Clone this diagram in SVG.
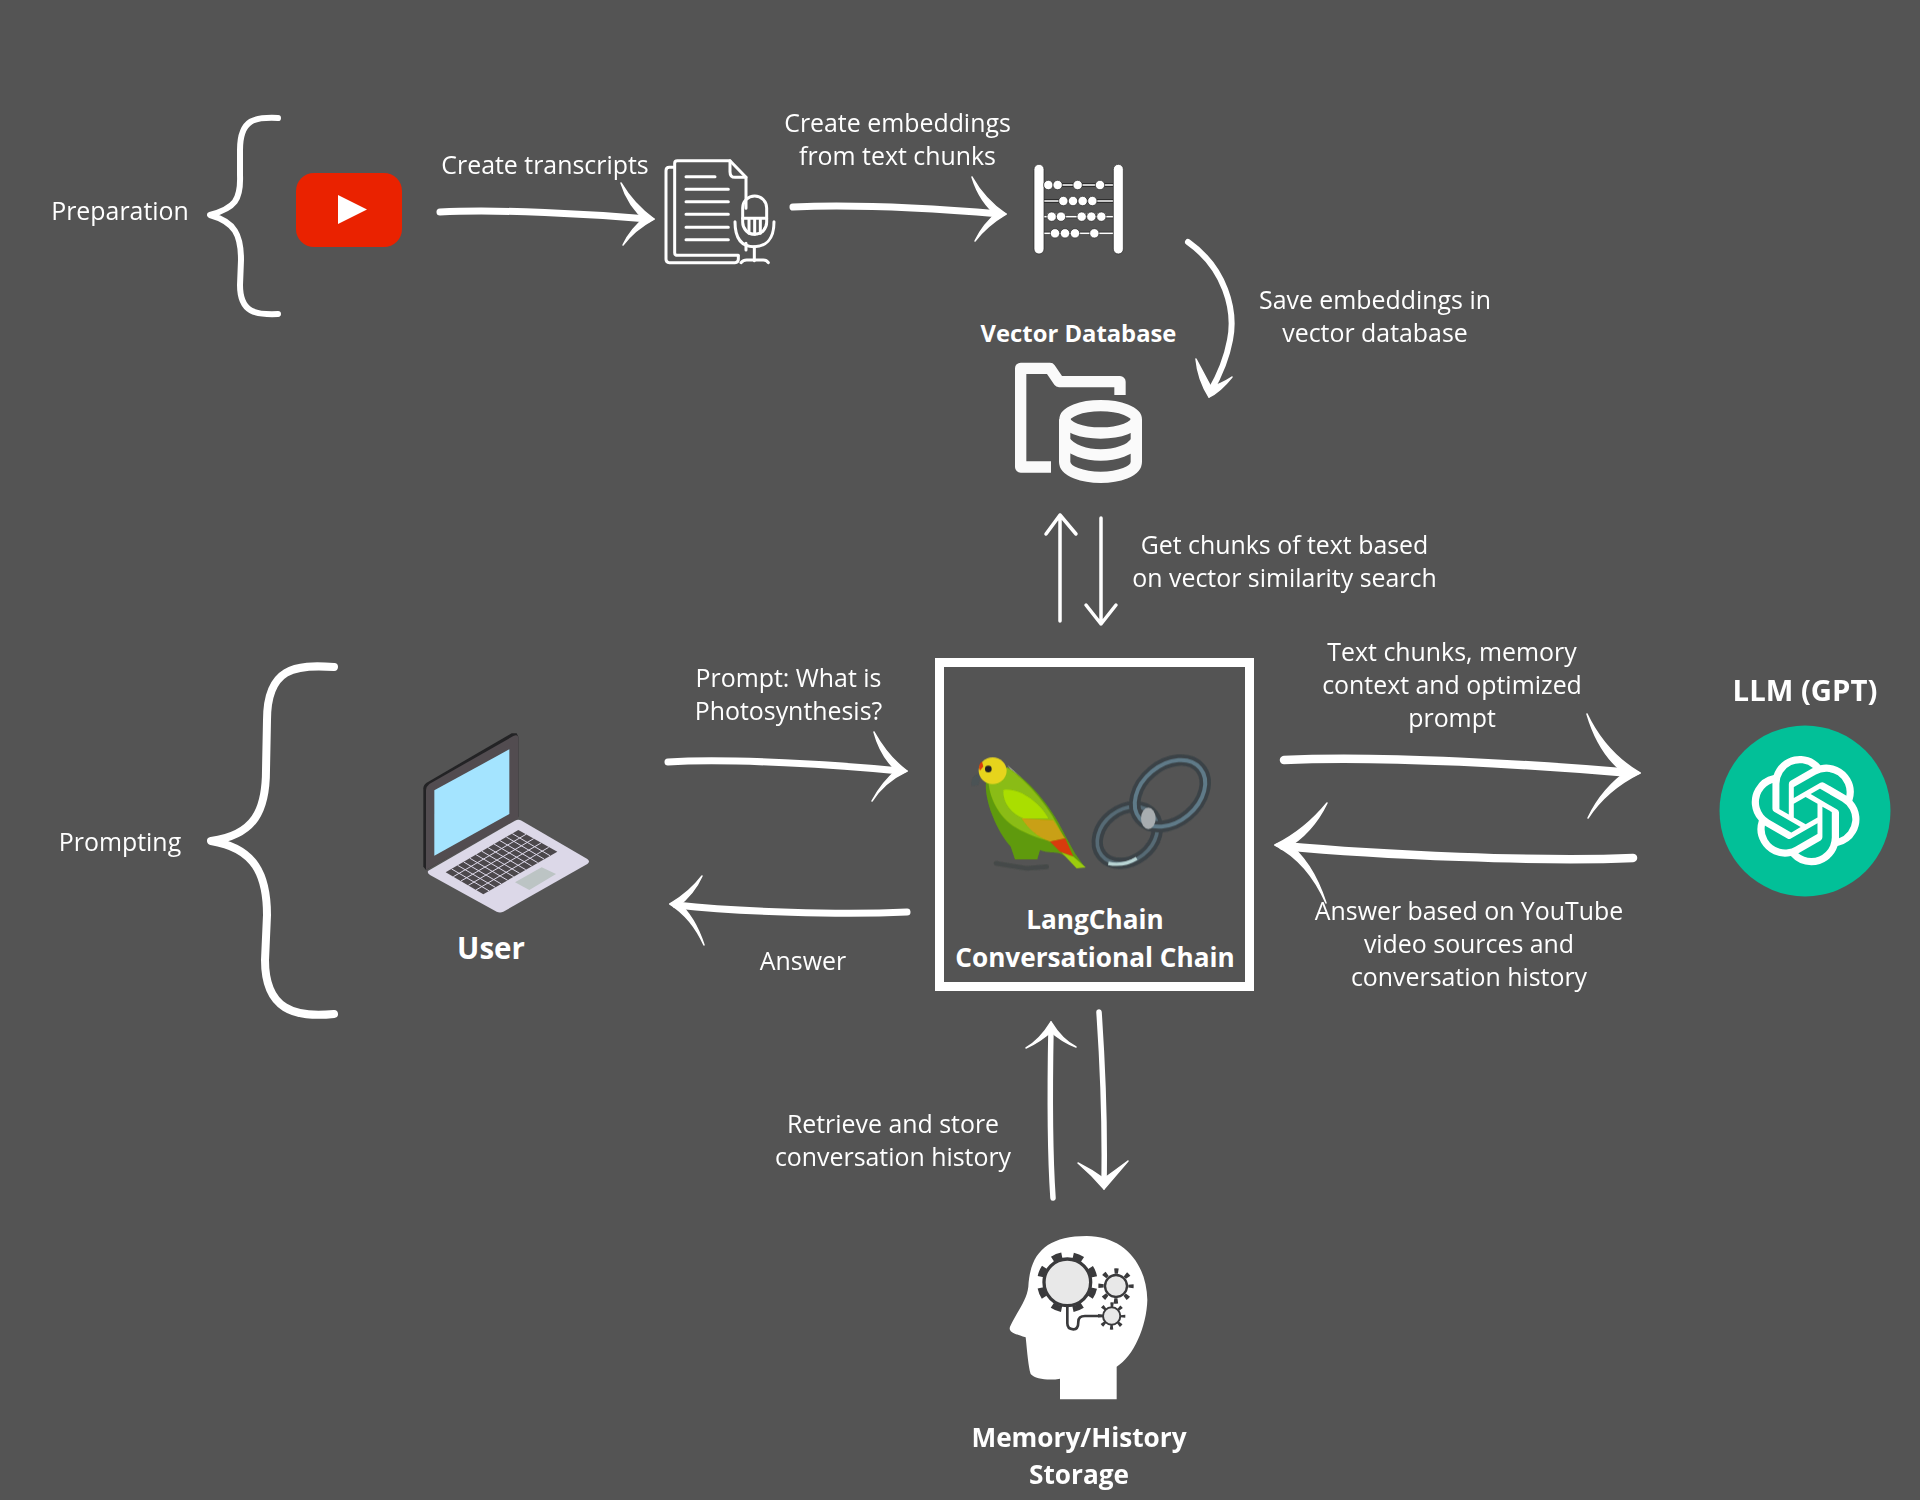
<svg xmlns="http://www.w3.org/2000/svg" width="1920" height="1500" viewBox="0 0 1920 1500">
<style>
text{font-family:"Open Sans","Noto Sans",sans-serif;fill:#fff;text-anchor:middle;font-size:24.900px}
.b{font-weight:700;font-size:26.200px}
.a{fill:none;stroke:#fff;stroke-linecap:round;stroke-linejoin:round;stroke-width:7}
.h{fill:#fff;stroke:#fff;stroke-width:1.500;stroke-linejoin:round}
.t{stroke-width:3.500}
.k{stroke-width:8.500}
.s{stroke-width:5.500}
.ic{fill:none;stroke:#fff;stroke-width:9;stroke-linecap:round;stroke-linejoin:round}
</style>
<defs>
<filter id="soft" x="-5%" y="-5%" width="110%" height="110%"><feGaussianBlur stdDeviation="2"/></filter>
</defs>
<rect width="1920" height="1500" fill="#545454"/>

<g id="brace-preparation"><path class="a" style="stroke-width:6" d="M278,118C256,117 240,118 240,150L240,175C241,200 235,208 210,215C235,222 241,235 241,260L240,285C240,313 256,315 278,314"/></g>
<g id="brace-prompting"><path class="a" style="stroke-width:8" d="M334,667C295,664 267,668 267,720L266,770C266,810 255,835 211,841C255,848 267,875 267,915L265,960C265,1010 295,1018 334,1014"/></g>

<g id="connectors">
<path class="a" d="M440,212C500,209 590,214 648,219"/>
<path class="h" d="M621,183Q634,205 654,219L647,222Q628,206 621,183Z"/><path class="h" d="M623,245Q634,230 654,219L647,216Q631,228 623,245Z"/>
<path class="a" d="M793,207C860,204 940,209 1000,214"/>
<path class="h" d="M972,177Q985,200 1006,214L999,217Q980,203 972,177Z"/><path class="h" d="M975,241Q986,226 1006,214L999,211Q983,224 975,241Z"/>
<path class="a" style="stroke-width:6" d="M1188,242C1225,268 1236,310 1230,340C1226,362 1218,378 1210,392"/>
<path class="h" d="M1196,359Q1198,380 1209,397L1212,389Q1204,374 1196,359Z"/><path class="h" d="M1232,377Q1220,392 1209,397L1207,388Q1220,385 1232,377Z"/>
<path class="a t" d="M1060,621L1060,515M1046,534L1060,515L1076,534"/>
<path class="a t" d="M1101,518L1101,624M1086,605L1101,624L1116,605"/>
<path class="a" d="M668,762C730,758 840,765 900,771"/>
<path class="h" d="M874,732Q888,757 907,771L900,774Q881,758 874,732Z"/><path class="h" d="M872,801Q884,782 907,771L899,768Q882,782 872,801Z"/>
<path class="a" d="M907,912C840,915 740,912 676,905"/>
<path class="h" d="M702,876Q690,892 670,904L677,907Q694,894 702,876Z"/><path class="h" d="M704,945Q692,918 670,904L677,901Q695,917 704,945Z"/>
<path class="a k" d="M1284,760C1380,755 1540,765 1632,773"/>
<path class="h" d="M1587,714Q1605,752 1640,773L1630,777Q1600,758 1587,714Z"/><path class="h" d="M1588,818Q1606,790 1640,773L1630,769Q1602,788 1588,818Z"/>
<path class="a k" d="M1633,858C1540,862 1380,855 1283,846"/>
<path class="h" d="M1327,803Q1305,830 1275,845L1285,849Q1312,834 1327,803Z"/><path class="h" d="M1326,903Q1308,862 1275,845L1285,841Q1312,860 1326,903Z"/>
<path class="a s" d="M1053,1198C1049,1140 1050,1080 1051,1028"/>
<path class="h" d="M1026,1048Q1040,1040 1051,1022L1053,1030Q1040,1042 1026,1048Z"/><path class="h" d="M1076,1047Q1062,1040 1051,1022L1049,1030Q1062,1042 1076,1047Z"/>
<path class="a s" d="M1099,1012C1103,1070 1105,1130 1104,1184"/>
<path class="h" d="M1078,1163Q1092,1175 1104,1189L1106,1180Q1092,1170 1078,1163Z"/><path class="h" d="M1128,1161Q1116,1175 1104,1189L1102,1180Q1116,1170 1128,1161Z"/>
</g>

<g id="youtube">
<rect x="296" y="173" width="106" height="74" rx="18" fill="#ea2200"/>
<path d="M338,195L367,209.500L338,224Z" fill="#fff"/>
</g>

<g id="transcript" transform="translate(640 130) scale(.33333)">
<g class="ic">
<path d="M100,112H88Q78,112 78,122V388Q78,398 88,398H285Q295,398 295,388V378"/>
<path d="M318,235V142L270,92H112Q104,92 104,100V368Q104,376 112,376H295M318,340V360"/>
<path d="M270,92V125Q270,142 285,142H318"/>
<path d="M138,140H225M138,178H265M138,215H265M138,253H265M138,292H265M138,329H265"/>
<rect x="308" y="198" width="72" height="115" rx="36"/>
<path d="M308,265H380M327,265V310M344,265V313M361,265V310"/>
<path d="M285,275C285,330 310,350 343,350C375,350 402,330 402,275"/>
<path d="M343,350V392M303,398Q310,390 320,390H370Q380,390 385,398"/>
</g>
</g>

<g id="abacus" transform="translate(640 130) scale(.33333)">
<path d="M1212,165H1420M1212,213H1420M1212,260H1420M1212,310H1420" stroke="#222" stroke-width="10"/>
<path d="M1212,165H1420M1212,213H1420M1212,260H1420M1212,310H1420" stroke="#fff" stroke-width="5"/>
<rect x="1182" y="103" width="30" height="269" rx="15" fill="#fff" stroke="#222" stroke-width="2"/>
<rect x="1420" y="103" width="30" height="269" rx="15" fill="#fff" stroke="#222" stroke-width="2"/>
<g fill="#fff" stroke="#222" stroke-width="2">
<circle cx="1225" cy="165" r="14"/><circle cx="1253" cy="165" r="14"/><circle cx="1313" cy="165" r="14"/><circle cx="1380" cy="165" r="14"/>
<circle cx="1270" cy="213" r="14"/><circle cx="1299" cy="213" r="14"/><circle cx="1328" cy="213" r="14"/><circle cx="1357" cy="213" r="14"/>
<circle cx="1235" cy="260" r="14"/><circle cx="1263" cy="260" r="14"/><circle cx="1325" cy="260" r="14"/><circle cx="1354" cy="260" r="14"/><circle cx="1384" cy="260" r="14"/>
<circle cx="1245" cy="310" r="14"/><circle cx="1275" cy="310" r="14"/><circle cx="1305" cy="310" r="14"/><circle cx="1363" cy="310" r="14"/>
</g>
</g>

<g id="vector-db">
<g transform="translate(950 220) scale(.33333)" fill="none" stroke="#fafafa" stroke-width="34" stroke-linejoin="round">
<path d="M303,741H212V445H300L327,485H510V525"/>
<ellipse cx="452" cy="598" rx="107" ry="41"/>
<path d="M344,598V725C344,755 400,772 452,772C505,772 559,755 559,725V598M344,662C360,690 410,705 452,705C495,705 545,690 559,662"/>
</g>
<text class="b" x="1078.500" y="342" style="font-size:23.800px">Vector Database</text>
</g>

<g id="langchain">
<rect x="939.500" y="662.500" width="310" height="324" fill="none" stroke="#fff" stroke-width="9"/>
<g transform="translate(920 650) scale(.33333)">
<g filter="url(#soft)">
<path d="M182,370C160,372 150,390 155,408L176,405Z" fill="#4c5254"/>
<path d="M262,345C310,385 375,450 418,525L400,530Z" fill="#b9b9ae"/>
<path d="M198,395C192,450 228,540 272,590L285,628L352,628L360,600C385,610 410,605 425,612L497,655L465,610L440,565C400,480 340,400 262,352Z" fill="#5f9a10"/>
<path d="M205,395C210,450 240,510 300,540C340,560 380,575 400,570L430,560C390,470 330,400 262,352Z" fill="#8abc12"/>
<path d="M250,420C300,412 360,460 385,505L310,505C275,490 248,460 250,420Z" fill="#aade00"/>
<path d="M305,505L400,510L435,565L390,575C350,560 325,535 305,505Z" fill="#c9a012"/>
<path d="M390,575L436,565L460,620L420,605Z" fill="#d83a0a"/>
<path d="M425,608L460,620L497,652L470,655Z" fill="#9ccc10"/>
<path d="M228,640L320,655L380,650" stroke="#454a48" stroke-width="14" fill="none" stroke-linecap="round"/>
<ellipse cx="218" cy="362" rx="42" ry="40" fill="#e6d41e"/>
<path d="M186,335Q172,345 180,362L190,350Z" fill="#d8400a"/>
<circle cx="205" cy="357" r="10" fill="#222"/>
<g fill="none">
<ellipse cx="622" cy="555" rx="98" ry="76" transform="rotate(-38 622 555)" stroke="#3b4347" stroke-width="34"/>
<ellipse cx="622" cy="555" rx="98" ry="76" transform="rotate(-38 622 555)" stroke="#566a74" stroke-width="11"/>
<ellipse cx="750" cy="430" rx="118" ry="85" transform="rotate(-40 750 430)" stroke="#3b4347" stroke-width="34"/>
<ellipse cx="750" cy="430" rx="118" ry="85" transform="rotate(-40 750 430)" stroke="#5f7a88" stroke-width="12"/>
<path d="M565,640Q610,650 650,625" stroke="#b8d4d4" stroke-width="10"/>
</g>
<ellipse cx="685" cy="505" rx="22" ry="32" fill="#a8adb0"/>
</g>
</g>
<text class="b" x="1095" y="929">LangChain</text>
<text class="b" x="1095" y="967">Conversational Chain</text>
</g>

<g id="user">
<g transform="translate(400 710) scale(.33333)">
<path d="M70,235Q70,225 80,218L335,70H350L355,80V320L78,480L70,470Z" fill="#232325"/>
<path d="M78,240Q78,230 88,222L340,78Q355,72 355,85V325L78,480Z" fill="#524c50"/>
<path d="M103,241L328,118V312L103,437Z" fill="#a4e4ff"/>
<path d="M85,482L345,332Q355,327 365,332L562,447Q572,455 562,462L310,605Q300,610 290,605L90,495Q80,487 85,482Z" fill="#dcd8e8"/>
<path d="M137,487L355,360L472,425L250,553Z" fill="#4c484c"/>
<path d="M160,500L378,373M183,513L401,386M205,526L423,399M228,540L446,412M155,477L268,543M173,466L286,532M191,456L304,522M210,445L323,511M228,434L341,500M246,424L359,490M264,413L377,479M282,402L395,468M300,392L413,458M319,381L432,447M337,371L450,437" stroke="#dcd8e8" stroke-width="3" fill="none"/>
<path d="M345,517L425,472L468,492L388,540Z" fill="#bcc4c4"/>
</g>
<text class="b" x="491" y="959" style="font-size:29.500px">User</text>
</g>

<g id="memory">
<g transform="translate(980 1220) scale(.33333)">
<path d="M240,538H410V440C460,410 500,320 502,240C500,130 430,48 320,48C200,48 150,100 145,200C140,240 120,260 90,320C85,335 100,340 137,352C142,400 145,440 152,462C165,478 210,482 240,476Z" fill="#fff"/>
<g fill="none" stroke="#3a3a3c">
<circle cx="262" cy="187" r="82" stroke-width="18" stroke-dasharray="30 34.400" stroke-dashoffset="-17.200"/>
<circle cx="408" cy="198" r="45" stroke-width="16" stroke-dasharray="12 23.300" stroke-dashoffset="6"/>
<circle cx="395" cy="288" r="34" stroke-width="14" stroke-dasharray="9 17.700" stroke-dashoffset="4.500"/>
<path d="M262,250V310Q262,328 280,328Q295,328 295,305Q295,288 315,288H370" stroke-width="8"/>
</g>
<circle cx="262" cy="187" r="70" fill="#e8e8e8" stroke="#3a3a3c" stroke-width="10"/>
<circle cx="408" cy="198" r="33" fill="#e8e8e8" stroke="#3a3a3c" stroke-width="7"/>
<circle cx="395" cy="288" r="26" fill="#e8e8e8" stroke="#3a3a3c" stroke-width="6"/>
</g>
<text class="b" x="1079" y="1447">Memory/History</text>
<text class="b" x="1079" y="1484">Storage</text>
</g>

<g id="llm">
<circle cx="1805" cy="811" r="85.500" fill="#02c098"/>
<path transform="translate(1751 756) scale(4.550)" fill="#fff" d="M22.2819 9.8211a5.9847 5.9847 0 0 0-.5157-4.9108 6.0462 6.0462 0 0 0-6.5098-2.9A6.0651 6.0651 0 0 0 4.9807 4.1818a5.9847 5.9847 0 0 0-3.9977 2.9 6.0462 6.0462 0 0 0 .7427 7.0966 5.98 5.98 0 0 0 .511 4.9107 6.051 6.051 0 0 0 6.5146 2.9001A5.9847 5.9847 0 0 0 13.2599 24a6.0557 6.0557 0 0 0 5.7718-4.2058 5.9894 5.9894 0 0 0 3.9977-2.9001 6.0557 6.0557 0 0 0-.7475-7.0729zm-9.022 12.6081a4.4755 4.4755 0 0 1-2.8764-1.0408l.1419-.0804 4.7783-2.7582a.7948.7948 0 0 0 .3927-.6813v-6.7369l2.02 1.1686a.071.071 0 0 1 .038.052v5.5826a4.504 4.504 0 0 1-4.4945 4.4944zm-9.6607-4.1254a4.4708 4.4708 0 0 1-.5346-3.0137l.142.0852 4.783 2.7582a.7712.7712 0 0 0 .7806 0l5.8428-3.3685v2.3324a.0804.0804 0 0 1-.0332.0615L9.74 19.9502a4.4992 4.4992 0 0 1-6.1408-1.6464zM2.3408 7.8956a4.485 4.485 0 0 1 2.3655-1.9728V11.6a.7664.7664 0 0 0 .3879.6765l5.8144 3.3543-2.0201 1.1685a.0757.0757 0 0 1-.071 0l-4.8303-2.7865A4.504 4.504 0 0 1 2.3408 7.872zm16.5963 3.8558L13.1038 8.364 15.1192 7.2a.0757.0757 0 0 1 .071 0l4.8303 2.7913a4.4944 4.4944 0 0 1-.6765 8.1042v-5.6772a.79.79 0 0 0-.407-.667zm2.0107-3.0231l-.142-.0852-4.7735-2.7818a.7759.7759 0 0 0-.7854 0L9.409 9.2297V6.8974a.0662.0662 0 0 1 .0284-.0615l4.8303-2.7866a4.4992 4.4992 0 0 1 6.6802 4.66zM8.3065 12.863l-2.02-1.1638a.0804.0804 0 0 1-.038-.0567V6.0742a4.4992 4.4992 0 0 1 7.3757-3.4537l-.142.0805L8.704 5.459a.7948.7948 0 0 0-.3927.6813zm1.0976-2.3654l2.602-1.4998 2.6069 1.4998v2.9994l-2.5974 1.4997-2.6067-1.4997Z"/>
<text class="b" x="1805" y="701" style="font-size:29.300px">LLM (GPT)</text>
</g>

<g id="labels">
<text x="120" y="219.500">Preparation</text>
<text x="120" y="851">Prompting</text>
<text x="545" y="173.500">Create transcripts</text>
<text x="897.500" y="131.500">Create embeddings</text>
<text x="897.500" y="164.500">from text chunks</text>
<text x="1375" y="308.500">Save embeddings in</text>
<text x="1375" y="341.500">vector database</text>
<text x="1284.500" y="553.500">Get chunks of text based</text>
<text x="1284.500" y="586.500">on vector similarity search</text>
<text x="788.500" y="686.500">Prompt: What is</text>
<text x="788.500" y="719.500">Photosynthesis?</text>
<text x="1452" y="660.500">Text chunks, memory</text>
<text x="1452" y="693.500">context and optimized</text>
<text x="1452" y="726.500">prompt</text>
<text x="803" y="969.500">Answer</text>
<text x="1469" y="919.500">Answer based on YouTube</text>
<text x="1469" y="952.500">video sources and</text>
<text x="1469" y="985.500">conversation history</text>
<text x="893" y="1132.500">Retrieve and store</text>
<text x="893" y="1165.500">conversation history</text>
</g>
</svg>
